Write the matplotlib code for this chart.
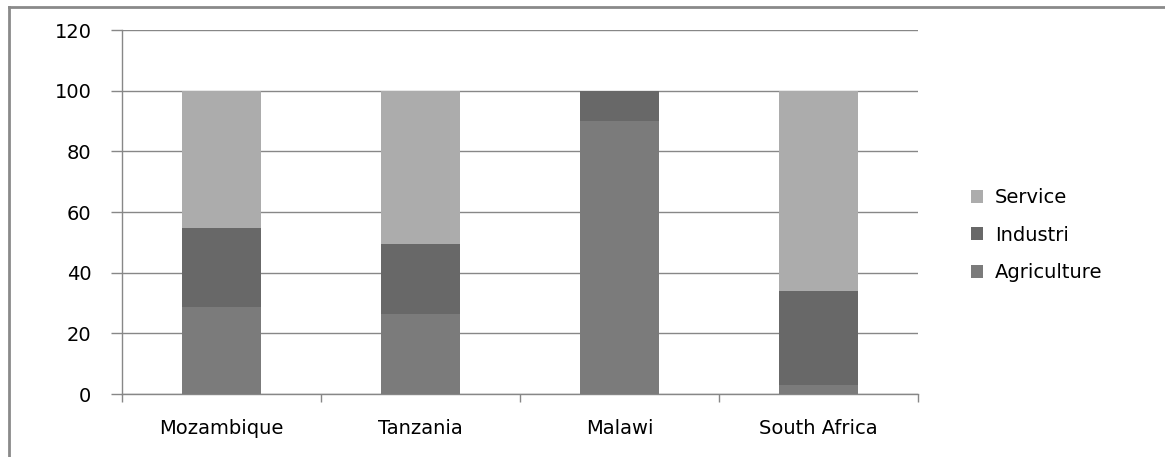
import matplotlib
matplotlib.use("Agg")
import matplotlib.pyplot as plt
from matplotlib.lines import Line2D
import numpy as np

countries = ["Mozambique", "Tanzania", "Malawi", "South Africa"]
agriculture = [28.8, 26.5, 90.0, 3.0]
industri = [25.9, 22.9, 10.0, 30.9]
service = [45.3, 50.6, 0.0, 66.1]
y_ticks = [0, 20, 40, 60, 80, 100, 120]

colors = {"Agriculture": "#7b7b7b", "Industri": "#686868", "Service": "#acacac"}
grid_color = "#878787"

W, H = 1165, 457
fig = plt.figure(figsize=(W / 100, H / 100), dpi=100)
fig.patch.set_facecolor("white")

ax = fig.add_axes([122 / W, (H - 394) / H, (918 - 122) / W, (394 - 30) / H])

x = np.arange(len(countries))
width = 0.4
agri = np.array(agriculture)
ind = np.array(industri)
srv = np.array(service)

b1 = ax.bar(x, agri, width, color=colors["Agriculture"], label="Agriculture", zorder=3)
b2 = ax.bar(x, ind, width, bottom=agri, color=colors["Industri"], label="Industri", zorder=3)
b3 = ax.bar(x, srv, width, bottom=agri + ind, color=colors["Service"], label="Service", zorder=3)

ax.set_xlim(-0.5, len(countries) - 0.5)
ax.set_ylim(0, 120)
ax.set_yticks(y_ticks)
ax.set_yticklabels([str(v) for v in y_ticks])
ax.yaxis.grid(True, color=grid_color, linewidth=1.0, zorder=0)
ax.set_axisbelow(True)

ax.set_xticks(x)
ax.set_xticklabels(countries)
ax.set_xticks(np.arange(len(countries) + 1) - 0.5, minor=True)
ax.tick_params(axis="x", which="major", length=0, pad=18, labelsize=14)
ax.tick_params(axis="x", which="minor", length=6, color=grid_color, width=1.0, direction="out")
ax.tick_params(axis="y", length=8, color=grid_color, width=1.0, pad=14, labelsize=14)

for side in ("top", "right"):
    ax.spines[side].set_visible(False)
for side in ("left", "bottom"):
    ax.spines[side].set_color(grid_color)
    ax.spines[side].set_linewidth(1.0)

handles = [b3, b2, b1]
leg = fig.legend(handles, ["Service", "Industri", "Agriculture"],
                 loc="center left", bbox_to_anchor=(953 / W, 1 - 235 / H),
                 frameon=False, fontsize=14, handlelength=0.65, handleheight=0.65,
                 handletextpad=0.6, labelspacing=0.95)

# chart area border (top and left edges)
fig.add_artist(Line2D([9 / W, 1.0], [1 - 7 / H, 1 - 7 / H], color="#8a8a8a", linewidth=2.0,
                      transform=fig.transFigure))
fig.add_artist(Line2D([9 / W, 9 / W], [0.0, 1 - 7 / H], color="#8a8a8a", linewidth=2.0,
                      transform=fig.transFigure))

fig.savefig("out.png", dpi=100, facecolor="white")
